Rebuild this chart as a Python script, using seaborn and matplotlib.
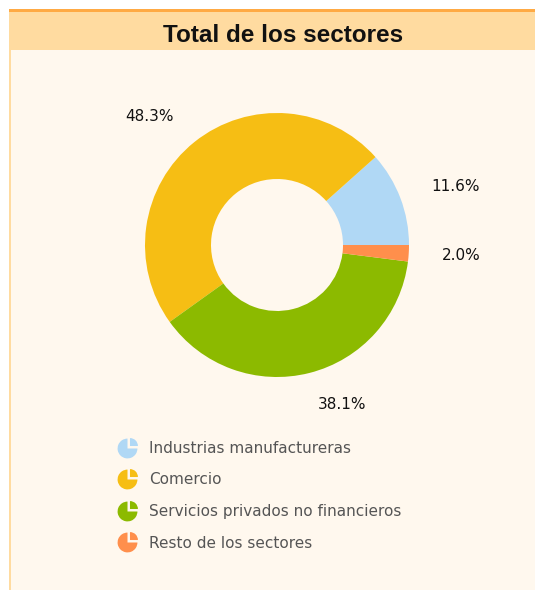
import matplotlib
matplotlib.use("Agg")
import matplotlib.pyplot as plt
import seaborn as sns
from matplotlib.path import Path
from matplotlib.patches import Rectangle
from matplotlib.lines import Line2D
import matplotlib.transforms as mtransforms

# Data
sectores = ["Industrias manufactureras", "Comercio",
            "Servicios privados no financieros", "Resto de los sectores"]
porcentajes = [11.6, 48.3, 38.1, 2.0]
colores = ["#B0D8F5", "#F6BE14", "#8CBA00", "#FF8F4C"]
titulo = "Total de los sectores"

sns.set_style("white")
plt.rcParams['font.family'] = ['DejaVu Sans']

W, H = 535, 590
fig = plt.figure(figsize=(W / 100, H / 100), dpi=100)
fig.patch.set_facecolor("white")

# panel background, header band and top line (pixel -> figure coords)
def add_box(x, y, w, h, color):
    fig.patches.append(Rectangle((x / W, 1 - (y + h) / H), w / W, h / H,
                                 transform=fig.transFigure, facecolor=color,
                                 edgecolor="none", zorder=-5))

add_box(9, 12, W - 9, H - 12, "#FFF8EE")
add_box(9, 12, 2, H - 12, "#FFDBA0")
add_box(9, 12, W - 9, 38, "#FFDBA0")
add_box(9, 9, W - 9, 3, "#FFAA44")

fig.text(283 / W, 1 - 35 / H, titulo, ha="center", va="center",
         fontsize=17.5, fontweight="bold", family="Liberation Sans", color="#111111")

# donut
cx, cy, r = 277, 245, 132
half = 200
ax = fig.add_axes([(cx - half) / W, 1 - (cy + half) / H, 2 * half / W, 2 * half / H])
ax.set_facecolor("none")
wedges, texts, autotexts = ax.pie(
    porcentajes, colors=colores, startangle=0, counterclock=True,
    radius=1, wedgeprops=dict(width=0.5, linewidth=0),
    autopct=lambda p: f"{p:.1f}%", pctdistance=1.25)
for t in autotexts:
    t.set_fontsize(11)
    t.set_color("#111111")
    # anchor the label on the side facing the donut
    t.set_ha("left" if t.get_position()[0] > 0 else "right")
lim = half / r
ax.set_xlim(-lim, lim)
ax.set_ylim(-lim, lim)
ax.set_aspect("equal")
ax.axis("off")

# legend icon: small pie with one slice pulled out
big = Path.wedge(90, 360)
small = Path.wedge(0, 90)
small = small.transformed(mtransforms.Affine2D().scale(0.8).translate(0.25, 0.25))
icon = Path.make_compound_path(big, small)

handles = [Line2D([], [], linestyle="none", marker=icon, markersize=15,
                  markerfacecolor=c, markeredgecolor="none") for c in colores]
fig.legend(handles, sectores, loc="upper left",
           bbox_to_anchor=(118 / W, 1 - 441 / H), frameon=False,
           fontsize=11, labelcolor="#555555", labelspacing=1.08,
           handletextpad=0.85, handlelength=1.2, borderpad=0, borderaxespad=0)

fig.savefig("out.png", dpi=100, facecolor=fig.get_facecolor())
